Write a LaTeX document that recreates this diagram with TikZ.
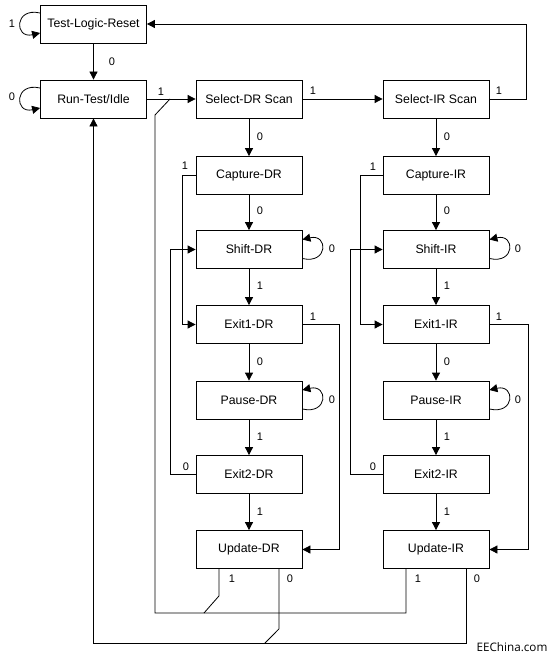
\documentclass[tikz,border=0pt]{standalone}
\usepackage{fontspec}
\setmainfont{Liberation Sans}
\newfontfamily\eefont{Open Sans}
\usetikzlibrary{arrows.meta}
\begin{document}
\begin{tikzpicture}[x=1pt,y=-1pt,
  state/.style={draw,line width=0.8pt,minimum width=106pt,minimum height=38pt,inner sep=0pt,font=\fontsize{12.3}{14}\selectfont},
  lbl/.style={font=\fontsize{11}{13}\selectfont,inner sep=0pt},
  wire/.style={line width=0.8pt},
  arr/.style={wire,-{Triangle[length=8pt,width=8pt]}},
]
\useasboundingbox[fill=white] (0,0) rectangle (555,661);
% states
\node[state] (tlr) at (93.5,24) {Test-Logic-Reset};
\node[state] (rti) at (93.5,99) {Run-Test/Idle};
\node[state] (sdr) at (249,99) {Select-DR Scan};
\node[state] (sir) at (436,99) {Select-IR Scan};
\node[state] (cdr) at (249,175.5) {Capture-DR};
\node[state] (shdr) at (249,249.5) {Shift-DR};
\node[state] (e1dr) at (249,324.5) {Exit1-DR};
\node[state] (pdr) at (249,400) {Pause-DR};
\node[state] (e2dr) at (249,474.5) {Exit2-DR};
\node[state] (udr) at (249,549.5) {Update-DR};
\node[state] (cir) at (436,175.5) {Capture-IR};
\node[state] (shir) at (436,249.5) {Shift-IR};
\node[state] (e1ir) at (436,324.5) {Exit1-IR};
\node[state] (pir) at (436,400) {Pause-IR};
\node[state] (e2ir) at (436,474.5) {Exit2-IR};
\node[state] (uir) at (436,549.5) {Update-IR};
% self loops
\draw[arr] ([yshift=11pt]tlr.west) .. controls +(-26pt,6pt) and +(-26pt,-6pt) .. ([yshift=-9pt]tlr.west);
\draw[arr] ([yshift=11pt]rti.west) .. controls +(-26pt,6pt) and +(-26pt,-6pt) .. ([yshift=-9pt]rti.west);
\draw[arr] ([yshift=-9pt]shdr.east) .. controls +(26pt,-6pt) and +(26pt,6pt) .. ([yshift=10pt]shdr.east);
\draw[arr] ([yshift=-9pt]pdr.east) .. controls +(26pt,-6pt) and +(26pt,6pt) .. ([yshift=10pt]pdr.east);
\draw[arr] ([yshift=-9pt]shir.east) .. controls +(26pt,-6pt) and +(26pt,6pt) .. ([yshift=10pt]shir.east);
\draw[arr] ([yshift=-9pt]pir.east) .. controls +(26pt,-6pt) and +(26pt,6pt) .. ([yshift=10pt]pir.east);
% main arrows
\draw[arr] (tlr) -- (rti);
\draw[arr] (rti) -- (sdr);
\draw[arr] (sdr) -- (sir);
\draw[arr] (sir.east) -- ++(37,0) |- (tlr.east);
\draw[arr] (sdr) -- (cdr);
\draw[arr] (cdr) -- (shdr);
\draw[arr] (shdr) -- (e1dr);
\draw[arr] (e1dr) -- (pdr);
\draw[arr] (pdr) -- (e2dr);
\draw[arr] (e2dr) -- (udr);
\draw[arr] (sir) -- (cir);
\draw[arr] (cir) -- (shir);
\draw[arr] (shir) -- (e1ir);
\draw[arr] (e1ir) -- (pir);
\draw[arr] (pir) -- (e2ir);
\draw[arr] (e2ir) -- (uir);
% side paths
\draw[arr] (cdr.west) -- ++(-13,0) |- (e1dr.west);
\draw[arr] (e2dr.west) -- ++(-25,0) |- (shdr.west);
\draw[arr] (e1dr.east) -- ++(37,0) |- (udr.east);
\draw[arr] (cir.west) -- ++(-22,0) |- (e1ir.west);
\draw[arr] (e2ir.west) -- ++(-32,0) |- (shir.west);
\draw[arr] (e1ir.east) -- ++(39,0) |- (uir.east);
% bottom returns
\coordinate (j1) at (170,99);
\coordinate (b1l) at (155,613);
\coordinate (b1t) at (155,115);
\coordinate (m1) at (204,613);
\coordinate (b2l) at (93.5,643);
\coordinate (m2) at (265,643);
\draw[wire] ([xshift=-30pt]uir.south) |- (b1l) -- (b1t) -- (j1);
\draw[wire] ([xshift=-30pt]udr.south) -- ++(0,27) -- (m1);
\draw[arr] ([xshift=30pt]uir.south) |- (b2l) -- (rti.south);
\draw[wire] ([xshift=30pt]udr.south) -- ++(0,60) -- (m2);
% labels
\node[lbl] (l01) at (12,24) {1};
\node[lbl] (l02) at (112,62) {0};
\node[lbl] (l03) at (12,97) {0};
\node[lbl] (l04) at (161,92) {1};
\node[lbl] (l05) at (313,91) {1};
\node[lbl] (l06) at (499,91) {1};
\node[lbl] (l07) at (260,137) {0};
\node[lbl] (l08) at (447,137) {0};
\node[lbl] (l09) at (185,166) {1};
\node[lbl] (l10) at (373,167) {1};
\node[lbl] (l11) at (260,211) {0};
\node[lbl] (l12) at (447,211) {0};
\node[lbl] (l13) at (332,249) {0};
\node[lbl] (l14) at (518,249) {0};
\node[lbl] (l15) at (260,286) {1};
\node[lbl] (l16) at (447,286) {1};
\node[lbl] (l17) at (313,317) {1};
\node[lbl] (l18) at (499,317) {1};
\node[lbl] (l19) at (260,362) {0};
\node[lbl] (l20) at (447,362) {0};
\node[lbl] (l21) at (332,400) {0};
\node[lbl] (l22) at (518,400) {0};
\node[lbl] (l23) at (260,437) {1};
\node[lbl] (l24) at (447,437) {1};
\node[lbl] (l25) at (186,467) {0};
\node[lbl] (l26) at (373,467) {0};
\node[lbl] (l27) at (260,512) {1};
\node[lbl] (l28) at (447,512) {1};
\node[lbl] (l29) at (232,579) {1};
\node[lbl] (l30) at (290,579) {0};
\node[lbl] (l31) at (418,579) {1};
\node[lbl] (l32) at (477,579) {0};
\node[inner sep=0pt,font=\eefont\fontsize{11.7}{13}\selectfont] (ee) at (512,647) {EEChina.com};
\end{tikzpicture}
\end{document}
